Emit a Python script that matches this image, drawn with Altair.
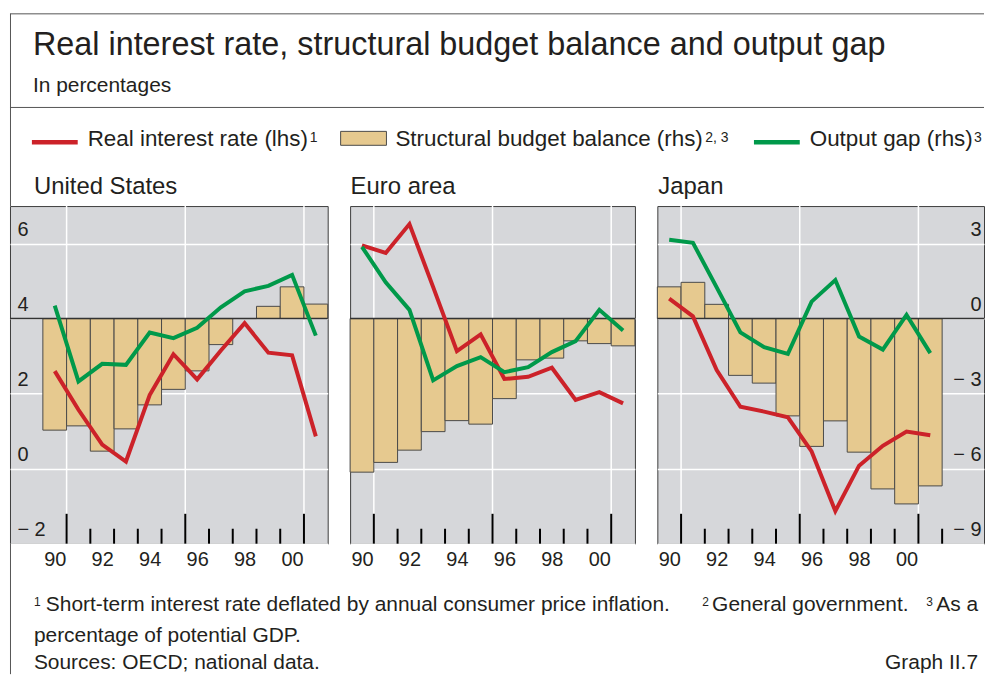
import altair as alt
import pandas as pd

# ---------------- data ----------------
years = list(range(1990, 2002))

us_rate = [2.60, 1.57, 0.64, 0.19, 1.96, 3.05, 2.38, 3.15, 3.88, 3.09, 3.02, 0.86]
us_budget = [-4.46, -4.29, -5.30, -4.41, -3.45, -2.83, -2.09, -1.04, 0.00, 0.49, 1.27, 0.58]
us_gap = [0.52, -2.51, -1.81, -1.85, -0.56, -0.78, -0.37, 0.45, 1.09, 1.31, 1.75, -0.68]

ea_rate = [5.95, 5.75, 6.52, 4.84, 3.13, 3.58, 2.39, 2.45, 2.69, 1.83, 2.04, 1.74]
ea_budget = [-6.14, -5.75, -5.26, -4.52, -4.08, -4.22, -3.20, -1.65, -1.58, -0.89, -1.00, -1.09]
ea_gap = [2.87, 1.45, 0.35, -2.47, -1.90, -1.54, -2.14, -1.94, -1.34, -0.90, 0.35, -0.48]

jp_rate = [4.53, 4.06, 2.63, 1.65, 1.52, 1.37, 0.46, -1.13, 0.08, 0.61, 0.99, 0.89]
jp_budget = [1.27, 1.45, 0.57, -2.27, -2.58, -3.89, -5.11, -4.09, -5.34, -6.81, -7.41, -6.69]
jp_gap = [3.15, 3.03, 1.25, -0.55, -1.14, -1.41, 0.68, 1.54, -0.72, -1.24, 0.15, -1.38]

year_labels = [1990, 1992, 1994, 1996, 1998, 2000]
lhs_ticks = [-2, 0, 2, 4, 6]
major_bounds = [1990.5, 1995.5, 2000.5]
minor_bounds = [1991.5, 1992.5, 1993.5, 1994.5, 1996.5, 1997.5, 1998.5, 1999.5]
minor_bounds_jp = [1991.5, 1992.5, 1993.5, 1994.5, 1996.5, 1997.5, 1998.5, 1999.5, 2001.5]

panel_titles = ["United States", "Euro area", "Japan"]
title_text = "Real interest rate, structural budget balance and output gap"
subtitle_text = "In percentages"
legend_texts = ["Real interest rate (lhs)", "Structural budget balance (rhs)", "Output gap (rhs)"]
legend_sups = ["1", "2, 3", "3"]
foot1 = "Short-term interest rate deflated by annual consumer price inflation."
foot2 = "General government."
foot3 = "As a"
foot4 = "percentage of potential GDP."
sources = "Sources: OECD; national data."
graph_id = "Graph II.7"

# ---------------- styles ----------------
FONT = "Liberation Sans"
INK = "#231f20"
GRAY = "#d6d7da"
TAN = "#e6c98f"
BAR_EDGE = "#4a4a4a"
RED = "#cc2229"
GREEN = "#00994a"
FRAME = "#555555"
H = 339          # plot height of each panel
HY = -197        # header origin, relative to the panels' top
FY = H           # footer origin, relative to the panels' top
W = 978          # total drawing width (fits the 994px window with its 8px margins)
YEAR_PX = 23.83
US_W, EA_W, GAP = 319, 286, 22.5
JP_W = W - US_W - EA_W - 2 * GAP

xaxis = alt.Axis(values=year_labels, labelExpr="format(datum.value % 100, '02d')",
                 labelFontSize=20, labelFont=FONT, labelColor=INK, labelPadding=6,
                 ticks=False, tickSize=0, domain=False, grid=False, title=None,
                 labelFlush=False, labelOverlap=False)


def yaxis(kind):
    common = dict(values=lhs_ticks, ticks=False, tickSize=0, domain=False, grid=True,
                  gridColor="white", gridWidth=1.5, gridOpacity=1, title=None,
                  labelFontSize=20, labelFont=FONT, labelColor=INK,
                  labelBaseline="alphabetic", labelOffset=-8, labelOverlap=False,
                  labelFlush=False)
    if kind == "left":
        return alt.Axis(orient="left", labelAlign="left", labelPadding=-7,
                        labelExpr="datum.value < 0 ? '\u2212 ' + abs(datum.value) : '' + datum.value",
                        **common)
    if kind == "right":
        return alt.Axis(orient="right", labelAlign="right", labelPadding=-3,
                        labelExpr="(datum.value - 4) * 1.5 < 0 ? '\u2212 ' + abs((datum.value - 4) * 1.5) : '' + (datum.value - 4) * 1.5",
                        **common)
    return alt.Axis(orient="left", labels=False, **common)


# ---------------- decoration helpers ----------------
def txt(s, x, y, size, align="left"):
    return alt.Chart(pd.DataFrame({"t": [s]})).mark_text(
        align=align, baseline="alphabetic", fontSize=size, font=FONT, color=INK).encode(
        x=alt.value(x), y=alt.value(y), text="t:N")


def hline(x1, x2, y, color, w):
    return alt.Chart(pd.DataFrame({"t": [0]})).mark_rule(color=color, strokeWidth=w).encode(
        x=alt.value(x1), x2=alt.value(x2), y=alt.value(y))


def vline(x, y1, y2, color, w):
    return alt.Chart(pd.DataFrame({"t": [0]})).mark_rule(color=color, strokeWidth=w).encode(
        x=alt.value(x), y=alt.value(y1), y2=alt.value(y2))


swatch = alt.Chart(pd.DataFrame({"t": [0]})).mark_rect(
    fill=TAN, stroke=BAR_EDGE, strokeWidth=1).encode(
    x=alt.value(332), x2=alt.value(378), y=alt.value(HY + 122), y2=alt.value(HY + 136))

header_layers = [
    hline(0, W, HY + 4, FRAME, 1),
    vline(0.5, HY + 4, 0, FRAME, 1),
    txt(title_text, 23, HY + 45, 32.5),
    txt(subtitle_text, 23, HY + 82, 21),
    hline(0, W, HY + 98, FRAME, 1),
    hline(22, 68, HY + 133, RED, 4.5),
    txt(legend_texts[0], 78, HY + 137, 22.5),
    txt(legend_sups[0], 301, HY + 133, 14),
    swatch,
    txt(legend_texts[1], 387, HY + 137, 22.5),
    txt(legend_sups[1], 698, HY + 133, 14),
    hline(747, 793, HY + 133, GREEN, 4.5),
    txt(legend_texts[2], 803, HY + 137, 22.5),
    txt(legend_sups[2], 968, HY + 133, 14),
    txt(panel_titles[0], 24, HY + 185, 24),
    txt(panel_titles[1], 342, HY + 185, 24),
    txt(panel_titles[2], 651, HY + 185, 24),
]

footer_layers = [
    vline(0.5, FY, FY + 131, FRAME, 1),
    txt("1", 24, FY + 63, 12),
    txt(foot1, 36, FY + 68, 21),
    txt("2", 695, FY + 63, 12),
    txt(foot2, 705, FY + 68, 21),
    txt("3", 920, FY + 63, 12),
    txt(foot3, 972, FY + 68, 21, align="right"),
    txt(foot4, 24, FY + 99, 21),
    txt(sources, 24, FY + 126, 21),
    txt(graph_id, 972, FY + 126, 21, align="right"),
]


def panel(rate, budget, gap, xdom, width, kind, minors, extra=()):
    df = pd.DataFrame({"year": years, "rate": rate, "budget": budget, "gap": gap})
    xs = alt.Scale(domain=xdom, nice=False, zero=False)
    ys = alt.Scale(domain=[-2, 7], nice=False, zero=False)
    ya = yaxis(kind)

    def X(f):
        return alt.X(f, type="quantitative", scale=xs, axis=xaxis)

    def Y(f):
        return alt.Y(f, type="quantitative", scale=ys, axis=ya)

    # rhs values are mapped onto the lhs scale: rhs 3 <-> lhs 6, rhs -9 <-> lhs -2
    base = alt.Chart(df).transform_calculate(
        x0="datum.year - 0.5", x1="datum.year + 0.5",
        b="datum.budget * 2 / 3 + 4", g="datum.gap * 2 / 3 + 4", z="0 * 2 / 3 + 4")

    vgrid = alt.Chart(pd.DataFrame({"v": major_bounds})).mark_rule(
        color="white", strokeWidth=1.5).encode(x=X("v"))
    bars = base.mark_rect(fill=TAN, stroke=BAR_EDGE, strokeWidth=1).encode(
        x=X("x0"), x2="x1:Q", y=Y("b"), y2="z:Q")
    zero = alt.Chart(pd.DataFrame({"r": [0]})).transform_calculate(
        z="datum.r * 2 / 3 + 4").mark_rule(color="#333333", strokeWidth=1.5).encode(y=Y("z"))
    red = base.mark_line(color=RED, strokeWidth=4).encode(x=X("year"), y=Y("rate"))
    green = base.mark_line(color=GREEN, strokeWidth=4).encode(x=X("year"), y=Y("g"))
    minor = alt.Chart(pd.DataFrame({"v": minors})).mark_rule(color="black", strokeWidth=2).encode(
        x=X("v"), y=alt.value(H), y2=alt.value(H - 15))
    major = alt.Chart(pd.DataFrame({"v": major_bounds})).mark_rule(color="black", strokeWidth=2).encode(
        x=X("v"), y=alt.value(H), y2=alt.value(H - 30))
    return alt.layer(vgrid, bars, zero, red, green, minor, major, *extra).properties(
        width=width, height=H,
        view=alt.ViewBackground(fill=GRAY, stroke="#3c3c3c", strokeWidth=1))


us = panel(us_rate, us_budget, us_gap, [1989.5 - 33 / YEAR_PX, 2001.5], US_W, "left",
           minor_bounds, extra=header_layers + footer_layers)
ea = panel(ea_rate, ea_budget, ea_gap, [1989.5, 2001.5], EA_W, "none", minor_bounds)
jp = panel(jp_rate, jp_budget, jp_gap, [1989.5, 1989.5 + JP_W / YEAR_PX], JP_W, "right",
           minor_bounds_jp)

chart = alt.hconcat(us, ea, jp, spacing=GAP, bounds="flush").properties(
    padding={"top": 3.5, "left": 0, "right": 0, "bottom": 0}, background="white"
).configure(font=FONT).configure_view(strokeWidth=0)

chart.save("out.html", embed_options={"renderer": "svg", "actions": False})
